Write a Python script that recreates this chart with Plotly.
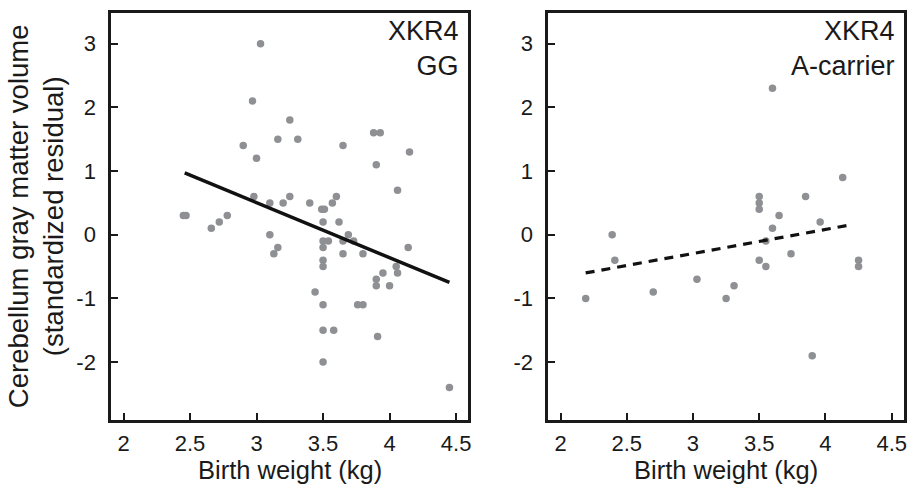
import plotly.graph_objects as go

# ---------------- data ----------------
gg_x = [3.03, 2.97, 3.25, 2.90, 3.16, 3.31, 3.00, 3.65, 3.88, 3.93, 4.15, 3.90, 4.06,
        2.98, 3.10, 3.20, 3.25, 3.40, 3.49, 3.51, 3.57, 3.60, 2.45, 2.47, 2.78, 2.72,
        2.66, 3.50, 3.62, 3.10, 3.16, 3.13, 3.69, 3.50, 3.54, 3.65, 3.73, 3.50, 3.65,
        3.80, 4.14, 3.50, 3.50, 4.05, 4.06, 3.95, 3.90, 3.90, 4.00, 3.44, 3.50, 3.76,
        3.80, 3.50, 3.58, 3.91, 3.50, 4.45]
gg_y = [3.0, 2.1, 1.8, 1.4, 1.5, 1.5, 1.2, 1.4, 1.6, 1.6, 1.3, 1.1, 0.7,
        0.6, 0.5, 0.5, 0.6, 0.5, 0.4, 0.4, 0.5, 0.6, 0.3, 0.3, 0.3, 0.2,
        0.1, 0.2, 0.2, 0.0, -0.2, -0.3, 0.0, -0.1, -0.1, -0.1, -0.1, -0.2, -0.3,
        -0.3, -0.2, -0.4, -0.5, -0.5, -0.6, -0.6, -0.7, -0.8, -0.8, -0.9, -1.1, -1.1,
        -1.1, -1.5, -1.5, -1.6, -2.0, -2.4]
gg_fit_x = [2.46, 4.45]
gg_fit_y = [0.97, -0.75]

ac_x = [3.60, 4.13, 3.85, 3.50, 3.50, 3.50, 3.65, 3.60, 3.96, 3.55, 3.74, 3.50,
        3.55, 4.25, 4.25, 2.39, 2.41, 2.19, 2.70, 3.03, 3.25, 3.31, 3.90]
ac_y = [2.3, 0.9, 0.6, 0.6, 0.5, 0.4, 0.3, 0.1, 0.2, -0.1, -0.3, -0.4,
        -0.5, -0.4, -0.5, 0.0, -0.4, -1.0, -0.9, -0.7, -1.0, -0.8, -1.9]
ac_fit_x = [2.19, 4.18]
ac_fit_y = [-0.60, 0.15]

x_tickvals = [2, 2.5, 3, 3.5, 4, 4.5]
x_ticktext = ["2", "2.5", "3", "3.5", "4", "4.5"]
y_tickvals = [3, 2, 1, 0, -1, -2]
y_ticktext = ["3", "2", "1", "0", "-1", "-2"]

panel_labels = ["XKR4<br>GG", "XKR4<br>A-carrier"]
x_title = "Birth weight (kg)"
y_title = "Cerebellum gray matter volume<br>(standardized residual)"

# ---------------- figure ----------------
W, H = 910, 486
FONT = "Liberation Sans, Arial, Helvetica, sans-serif"
PT = "#8e9093"
INK = "#1a1a1a"

fig = go.Figure()
fig.add_trace(go.Scatter(x=gg_x, y=gg_y, mode="markers", xaxis="x", yaxis="y",
                         marker=dict(size=7.5, color=PT), showlegend=False))
fig.add_trace(go.Scatter(x=gg_fit_x, y=gg_fit_y, mode="lines", xaxis="x", yaxis="y",
                         line=dict(color="#111111", width=3.5), showlegend=False))
fig.add_trace(go.Scatter(x=ac_x, y=ac_y, mode="markers", xaxis="x2", yaxis="y2",
                         marker=dict(size=7.5, color=PT), showlegend=False))
fig.add_trace(go.Scatter(x=ac_fit_x, y=ac_fit_y, mode="lines", xaxis="x2", yaxis="y2",
                         line=dict(color="#111111", width=3.2, dash="9px,7px"),
                         showlegend=False))

ydom = [1 - 420 / H, 1 - 12.5 / H]
xdom1 = [111.5 / W, 470 / W]
xdom2 = [550 / W, 907 / W]

axis_common = dict(showline=True, linecolor=INK, linewidth=2.6, mirror=True,
                   ticks="inside", ticklen=7, tickwidth=2.4, tickcolor=INK,
                   showgrid=False, zeroline=False,
                   tickfont=dict(family=FONT, size=22, color=INK))

xa = dict(axis_common, range=[1.907, 4.593], tickmode="array",
          tickvals=x_tickvals, ticktext=x_ticktext, ticklabelstandoff=2)
ya = dict(axis_common, range=[-2.91, 3.49], tickmode="array",
          tickvals=y_tickvals, ticktext=y_ticktext, ticklabelstandoff=8)

fig.update_layout(
    width=W, height=H,
    margin=dict(l=0, r=0, t=0, b=0),
    paper_bgcolor="white", plot_bgcolor="white",
    font=dict(family=FONT, color=INK),
    xaxis=dict(xa, domain=xdom1, anchor="y"),
    yaxis=dict(ya, domain=ydom, anchor="x"),
    xaxis2=dict(xa, domain=xdom2, anchor="y2"),
    yaxis2=dict(ya, domain=ydom, anchor="x2"),
)

annos = []
for i, lab in enumerate(panel_labels):
    suf = "" if i == 0 else "2"
    annos.append(dict(text=lab, xref=f"x{suf} domain", yref=f"y{suf} domain",
                      x=1 - 7 / 358, y=1 - 1 / 407, xanchor="right", yanchor="top",
                      align="right", showarrow=False,
                      font=dict(family=FONT, size=27, color=INK)))
    annos.append(dict(text=x_title, xref=f"x{suf} domain", yref="paper",
                      x=0.5, y=(H - 470) / H, xanchor="center", yanchor="middle",
                      showarrow=False, borderpad=0,
                      font=dict(family=FONT, size=25.5, color=INK)))
annos.append(dict(text=y_title, xref="paper", yref="y domain", x=36 / W, y=0.5,
                  xanchor="center", yanchor="middle", textangle=-90, showarrow=False,
                  font=dict(family=FONT, size=27.5, color=INK)))
fig.update_layout(annotations=annos)

fig.write_html("out.html",
               config={"displayModeBar": False},
               post_script="document.body.style.margin='0px';"
                           "document.body.style.padding='0px';"
                           "document.body.style.overflow='hidden';")
